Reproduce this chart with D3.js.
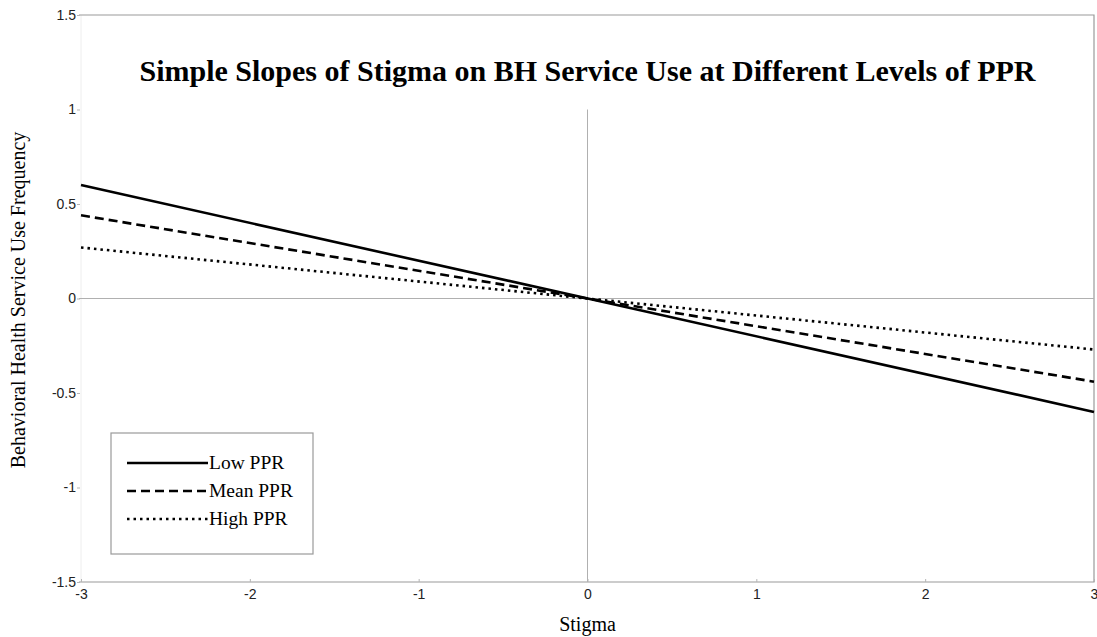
<!DOCTYPE html>
<html>
<head>
<meta charset="utf-8">
<script src="https://cdn.jsdelivr.net/npm/d3@7"></script>
<style>
  body { margin: 0; background: #fff; }
  svg { display: block; }
</style>
</head>
<body>
<svg id="chart" width="1097" height="637"></svg>
<script>
/* data */
const stigma = [-3, 3];
const lowPPR = [0.6, -0.6];
const meanPPR = [0.44, -0.44];
const highPPR = [0.27, -0.27];
const xTicks = [-3, -2, -1, 0, 1, 2, 3];
const yTicks = [1.5, 1, 0.5, 0, -0.5, -1, -1.5];
const seriesNames = ["Low PPR", "Mean PPR", "High PPR"];

const margin = { top: 15, right: 3, bottom: 55, left: 81 };
const width = 1097;
const height = 637;

const svg = d3.select("#chart");

const xScale = d3.scaleLinear().domain([-3, 3]).range([margin.left, width - margin.right]);
const yScale = d3.scaleLinear().domain([-1.5, 1.5]).range([height - margin.bottom, margin.top]);

const gray = "#9a9a9a";
const serif = "'Liberation Serif', 'Times New Roman', serif";

/* frame: top, right, bottom; left very faint */
svg.append("line")
    .attr("x1", xScale(-3)).attr("x2", xScale(-3))
    .attr("y1", yScale(1.5)).attr("y2", yScale(-1.5))
    .attr("stroke", "#eeeeee");
svg.append("path")
    .attr("d", `M${xScale(-3) - 2},${yScale(1.5)}H${xScale(3)}V${yScale(-1.5)}H${xScale(-3) - 2}`)
    .attr("fill", "none")
    .attr("stroke", gray)
    .attr("stroke-width", 1.2);

/* zero reference lines */
svg.append("line")
    .attr("x1", xScale(-3) - 2).attr("x2", xScale(3))
    .attr("y1", yScale(0)).attr("y2", yScale(0))
    .attr("stroke", "#b0b0b0");
svg.append("line")
    .attr("x1", xScale(0)).attr("x2", xScale(0))
    .attr("y1", yScale(1)).attr("y2", yScale(-1.5))
    .attr("stroke", "#b0b0b0");

/* axes */
const xAxis = d3.axisBottom(xScale)
    .tickValues(xTicks)
    .tickSize(3)
    .tickPadding(4)
    .tickFormat(d => String(d));
const yAxis = d3.axisLeft(yScale)
    .tickValues(yTicks)
    .tickSize(3)
    .tickPadding(1)
    .tickFormat(d => String(d));

const gx = svg.append("g")
    .attr("transform", "translate(0," + yScale(-1.5) + ")")
    .call(xAxis);
const gy = svg.append("g")
    .attr("transform", "translate(" + (xScale(-3) - 1) + ",0)")
    .call(yAxis);

[gx, gy].forEach(g => {
    g.select(".domain").remove();
    g.selectAll(".tick line").attr("stroke", "#b5b5b5");
    g.selectAll(".tick text")
        .attr("fill", "#222")
        .style("font-family", "'Liberation Sans', Arial, sans-serif")
        .style("font-size", "14px");
});
gx.selectAll(".tick line").attr("transform", "translate(0,-3)");

/* lines */
const line = d3.line()
    .x((d, i) => xScale(stigma[i]))
    .y(d => yScale(d));

const styles = [
    { data: lowPPR, dash: null },
    { data: meanPPR, dash: "9,5" },
    { data: highPPR, dash: "2.5,4" }
];

styles.forEach(s => {
    svg.append("path")
        .datum(s.data)
        .attr("d", line)
        .attr("fill", "none")
        .attr("stroke", "#000")
        .attr("stroke-width", 2.6)
        .attr("stroke-dasharray", s.dash);
});

/* title */
svg.append("text")
    .attr("x", xScale(0))
    .attr("y", 81)
    .attr("text-anchor", "middle")
    .style("font-family", serif)
    .style("font-weight", "bold")
    .style("font-size", "30px")
    .text("Simple Slopes of Stigma on BH Service Use at Different Levels of PPR");

/* axis titles */
svg.append("text")
    .attr("x", xScale(0))
    .attr("y", 631)
    .attr("text-anchor", "middle")
    .style("font-family", serif)
    .style("font-size", "20px")
    .text("Stigma");

svg.append("text")
    .attr("transform", "translate(25," + 300 + ") rotate(-90)")
    .attr("text-anchor", "middle")
    .style("font-family", serif)
    .style("font-size", "20px")
    .text("Behavioral Health Service Use Frequency");

/* legend */
const legend = svg.append("g").attr("transform", "translate(111,433)");
legend.append("rect")
    .attr("width", 202)
    .attr("height", 121)
    .attr("fill", "#fff")
    .attr("stroke", gray)
    .attr("stroke-width", 1.2);

seriesNames.forEach((name, i) => {
    const y = 30 + i * 28;
    legend.append("line")
        .attr("x1", 16).attr("x2", 97)
        .attr("y1", y).attr("y2", y)
        .attr("stroke", "#000")
        .attr("stroke-width", 2.6)
        .attr("stroke-dasharray", styles[i].dash);
    legend.append("text")
        .attr("x", 98)
        .attr("y", y + 6)
        .style("font-family", serif)
        .style("font-size", "19.5px")
        .text(name);
});
</script>
</body>
</html>
